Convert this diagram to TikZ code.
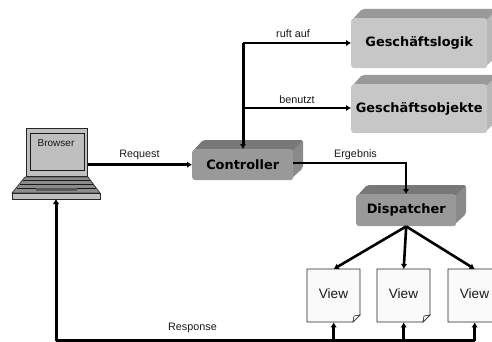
\documentclass[tikz,border=0pt]{standalone}
\usepackage{fontspec}
\setmainfont{Liberation Sans}
\newfontfamily\boldface{DejaVu Sans}
\usetikzlibrary{arrows.meta,calc}
\definecolor{lightfront}{gray}{0.78}
\definecolor{lighttop}{gray}{0.60}
\definecolor{lightside}{gray}{0.72}
\definecolor{darkfront}{gray}{0.60}
\definecolor{darktop}{gray}{0.47}
\definecolor{darkside}{gray}{0.54}
\definecolor{inkc}{gray}{0}
\tikzset{
  x=1pt,y=-1pt,
  wire/.style={draw=inkc,line width=2.6pt,-{Latex[length=5pt,width=6.5pt]}},
  plainwire/.style={draw=inkc,line width=3pt},
  lbl/.style={font=\fontsize{10.8}{12}\selectfont,text=black!90,inner sep=0pt},
  title/.style={font=\boldface\fontsize{12.9}{15}\selectfont\bfseries,inner sep=0pt,text=black},
  frontbox/.style={rounded corners=3pt,inner sep=0pt},
  viewbox/.style={draw=black!85,line width=0.8pt,fill=black!2,inner sep=0pt},
  viewlbl/.style={font=\fontsize{13.6}{15}\selectfont,inner sep=0pt,text=black!90},
}
\newcommand{\slabbox}[8]{% name x1 y1 x2 y2 front top side
  \fill[#8,rounded corners=2pt] (#4-2,#3) -- (#4+10,#3-9) -- (#4+10,#5-12) -- (#4-2,#5-1) -- cycle;
  \fill[#7,rounded corners=2pt] (#2+1,#3+2) -- (#2+11,#3-9) -- (#4+10,#3-9) -- (#4-1,#3+2) -- cycle;
  \node[frontbox,fill=#6,minimum width=#4-#2,minimum height=#5-#3,anchor=north west] (#1) at (#2,#3) {};
}
\begin{document}
\begin{tikzpicture}
\useasboundingbox (0,0) rectangle (492,342);
\clip (0,0) rectangle (492,342);
% boxes
\slabbox{logik}{351}{18}{487}{68}{lightfront}{lighttop}{lightside}
\slabbox{objekte}{351}{84}{487}{133}{lightfront}{lighttop}{lightside}
\slabbox{ctrl}{192}{149}{293}{180}{darkfront}{darktop}{darkside}
\slabbox{disp}{356}{194}{456}{226}{darkfront}{darktop}{darkside}
\node[title] at (logik.center) {Geschäftslogik};
\node[title] at (objekte.center) {Geschäftsobjekte};
\node[title] at (ctrl.center) {Controller};
\node[title] at (disp.center) {Dispatcher};
% laptop
\filldraw[draw=black!80,fill=black!45,line width=0.7pt] (25,177) -- (88,177) -- (100,193) -- (12,193) -- cycle;
\draw[black!90,line width=0.8pt] (23,180) -- (90,180) (20,184) -- (93,184) (17,188) -- (96,188);
\fill[black!65] (36,187.5) rectangle (77,190.5);
\filldraw[draw=black!85,fill=black!25,line width=0.8pt] (12,193) rectangle (100,199);
\node[draw=black!85,fill=black!25,line width=0.9pt,minimum width=61,minimum height=48,inner sep=0pt,anchor=north west] (screen) at (26,128) {};
\node[draw=black!90,fill=black!25,line width=0.8pt,minimum width=54,minimum height=37,inner sep=0pt,anchor=north west] (inner) at (29.5,133) {};
\node[lbl,font=\fontsize{10}{12}\selectfont] at (56,143) {Browser};
\coordinate (laptopbase) at (56,199);
% views
\foreach \n/\x in {a/307,b/377,c/448}{
  \draw[viewbox] (\x,269) -- (\x+53,269) -- (\x+53,315) -- (\x+46,322) -- (\x,322) -- cycle;
  \draw[black!85,line width=0.6pt,fill=white] (\x+53,315) -- (\x+47,316) -- (\x+46,322) -- cycle;
  \node[minimum width=53,minimum height=53,inner sep=0pt,anchor=north west] (view\n) at (\x,269) {};
  \node[viewlbl] at (\x+26.5,293.5) {View};
}
% connectors
\coordinate (ctrlup) at (243,149);
\coordinate (corner) at (243,43);
\coordinate (branch) at (243,108);
\draw[wire] (screen.east |- ctrl.west) -- (ctrl.west);
\draw[wire,line width=3pt] (corner) -- (ctrlup);
\draw[wire] (corner) -- (logik.west |- corner);
\draw[wire] (branch) -- (objekte.west |- branch);
\coordinate (ergturn) at (406,163);
\draw[wire] (ctrl.east |- ergturn) -- (ergturn) -- (ergturn |- disp.north);
\draw[wire] (disp.south) -- (viewa.north);
\draw[wire] (disp.south) -- (viewb.north);
\draw[wire] (disp.south) -- (viewc.north);
\coordinate (retl) at (56,340.5);
\coordinate (retr) at (474.5,340.5);
\draw[plainwire] (retl) -- (retr);
\draw[wire,line width=3pt] (retl) -- (laptopbase);
\draw[wire] (viewa.south |- retl) -- (viewa.south);
\draw[wire] (viewb.south |- retl) -- (viewb.south);
\draw[wire] (viewc.south |- retl) -- (viewc.south);
% labels
\node[lbl] at (139.5,155) {Request};
\node[lbl] at (293,34) {ruft auf};
\node[lbl] at (297,100) {benutzt};
\node[lbl] at (355.5,155) {Ergebnis};
\node[lbl] at (192.5,327.5) {Response};
\end{tikzpicture}
\end{document}
